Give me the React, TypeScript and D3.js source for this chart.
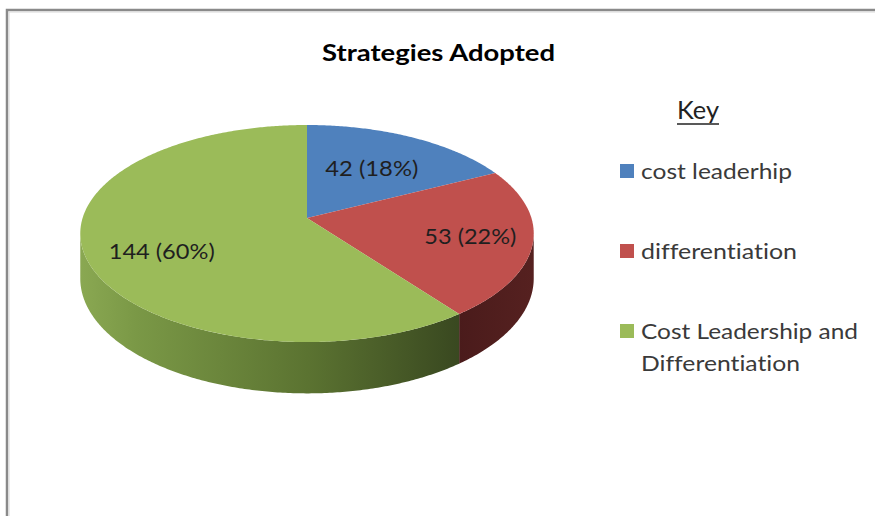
import React from "react";
import * as d3 from "d3";

const categories = ["cost leaderhip", "differentiation", "Cost Leadership and Differentiation"];
const values = [42, 53, 144];
const percentLabels = ["18%", "22%", "60%"];
const titleText = "Strategies Adopted";
const keyText = "Key";

const topColors = ["#4f81bd", "#c0504d", "#9bbb59"];
const sideFills = ["#2c4a6e", "url(#redSide)", "url(#greenSide)"];
const labelRadii = [0.59, 0.73, 0.69];
const labelAngleShift = [0, 0, -0.135];
const labelWidths = [93, 92, 106];
const legendWidths = [[151], [156], [217, 159]];

const FONT = "Lato, 'Open Sans', sans-serif";
const W = 875;
const H = 516;
// projected pie geometry
const CX = 307;
const CY = 218;
const SX = 224.4;
const SY = 106.3;
const K = 0.143;
const DEPTH = 44;

function proj(a: number, r: number, down = 0): [number, number] {
  const u = r * Math.sin(a);
  const v = r * Math.cos(a);
  const s = 1 / (1 + K * v);
  return [CX + SX * u * s, CY - SY * v * s + down * s];
}

function arcPoints(a0: number, a1: number, down = 0): [number, number][] {
  const n = Math.max(2, Math.ceil(Math.abs(a1 - a0) / 0.01));
  const pts: [number, number][] = [];
  for (let i = 0; i <= n; i++) {
    const a = a0 + ((a1 - a0) * i) / n;
    pts.push(proj(a, 1, down));
  }
  return pts;
}

export default function App() {
  const pie = d3.pie<number>().sort(null).value((d) => d);
  const arcs = pie(values);
  const line = d3.line<[number, number]>().x((d) => d[0]).y((d) => d[1]);

  const visA0 = Math.acos(-K);
  const visA1 = 2 * Math.PI - Math.acos(-K);

  const sides = arcs.map((a, i) => {
    const s0 = Math.max(a.startAngle, visA0);
    const s1 = Math.min(a.endAngle, visA1);
    if (s1 <= s0) return null;
    const top = arcPoints(s0, s1, 0);
    const bot = arcPoints(s1, s0, DEPTH);
    return (
      <path key={"side" + i} d={line([...top, ...bot])! + "Z"} fill={sideFills[i]} />
    );
  });

  const tops = arcs.map((a, i) => {
    const pts: [number, number][] = [[CX, CY], ...arcPoints(a.startAngle, a.endAngle, 0)];
    return <path key={"top" + i} d={line(pts)! + "Z"} fill={topColors[i]} />;
  });

  const labels = arcs.map((a, i) => {
    const mid = (a.startAngle + a.endAngle) / 2 + labelAngleShift[i];
    const [x, y] = proj(mid, labelRadii[i], 0);
    return (
      <text
        key={"lab" + i}
        x={x - labelWidths[i] / 2}
        y={y}
        dy="0.36em"
        fontFamily={FONT}
        fontSize={20.5}
        fill="#1f1f1f"
        textLength={labelWidths[i]}
        lengthAdjust="spacingAndGlyphs"
      >
        {`${values[i]} (${percentLabels[i]})`}
      </text>
    );
  });

  const legendY = [171, 251, 331];
  const legend = categories.map((c, i) => {
    const idx = c.indexOf(" and ");
    const lines = idx >= 0 ? [c.slice(0, idx + 4), c.slice(idx + 5)] : [c];
    return (
      <g key={"leg" + i}>
        <rect x={620} y={legendY[i] - 7} width={14} height={14} fill={topColors[i]} />
        {lines.map((ln, j) => (
          <text
            key={j}
            x={641}
            y={legendY[i] + j * 32}
            dy="0.36em"
            fontFamily={FONT}
            fontSize={22}
            fill="#3a3a3a"
            textLength={legendWidths[i][j]}
            lengthAdjust="spacingAndGlyphs"
            style={{ fontVariantLigatures: "none" }}
          >
            {ln}
          </text>
        ))}
      </g>
    );
  });

  return (
    <svg
      width={W}
      height={H}
      style={{ position: "absolute", left: 0, top: 0, background: "#fff" }}
    >
      <defs>
        <linearGradient id="greenSide" gradientUnits="userSpaceOnUse" x1={80} y1={0} x2={460} y2={0}>
          <stop offset="0" stopColor="#8aa852" />
          <stop offset="0.15" stopColor="#7a9846" />
          <stop offset="0.6" stopColor="#5b7331" />
          <stop offset="1" stopColor="#394820" />
        </linearGradient>
        <linearGradient id="redSide" gradientUnits="userSpaceOnUse" x1={458} y1={0} x2={536} y2={0}>
          <stop offset="0" stopColor="#4a1b1b" />
          <stop offset="1" stopColor="#562120" />
        </linearGradient>
      </defs>
      <rect x={0} y={0} width={W} height={H} fill="#fff" />
      <rect x={7} y={10} width={W + 20} height={H + 20} fill="none" stroke="#8a8a8a" strokeWidth={2.5} />
      <rect x={9} y={12} width={W + 20} height={H + 20} fill="none" stroke="#d8d8d8" strokeWidth={1} />
      <text
        x={322}
        y={61}
        fontFamily={FONT}
        fontWeight="bold"
        fontSize={23}
        fill="#000"
        textLength={233}
        lengthAdjust="spacingAndGlyphs"
      >
        {titleText}
      </text>
      <text
        x={677}
        y={119}
        fontFamily={FONT}
        fontSize={25}
        fill="#222"
        textLength={42}
        lengthAdjust="spacingAndGlyphs"
      >
        {keyText}
      </text>
      <line x1={677} x2={719} y1={124} y2={124} stroke="#222" strokeWidth={1.5} />
      {sides}
      {tops}
      {labels}
      {legend}
    </svg>
  );
}
